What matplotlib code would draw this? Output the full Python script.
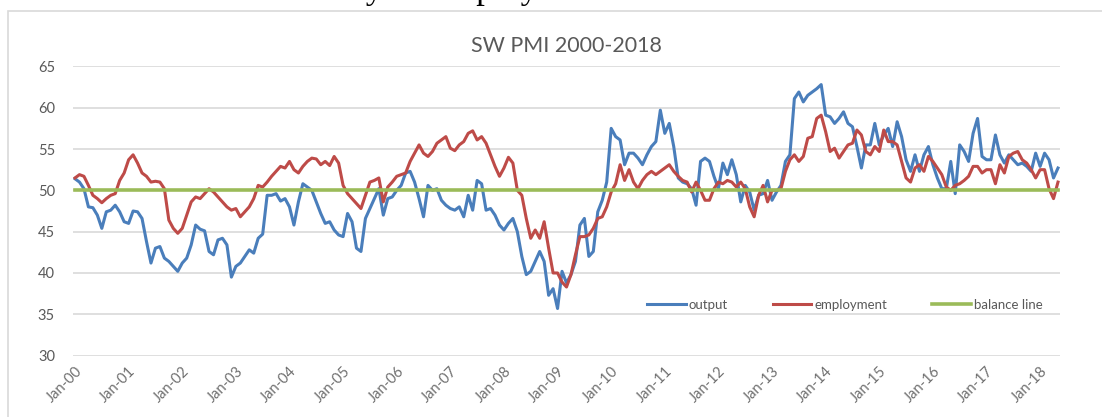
import numpy as np
import matplotlib.pyplot as plt
from matplotlib.patches import Rectangle

# monthly SW PMI readings, Jan 2000 - May 2018
output = [51.4, 51.0, 50.2, 48.0, 47.9, 47.0, 45.4, 47.4, 47.6, 48.2, 47.4, 46.2,
          46.0, 47.5, 47.4, 46.6, 43.8, 41.2, 43.0, 43.2, 41.8, 41.4, 40.8, 40.2,
          41.2, 41.8, 43.4, 45.8, 45.3, 45.1, 42.6, 42.2, 44.0, 44.2, 43.4, 39.5,
          40.8, 41.2, 42.0, 42.8, 42.4, 44.2, 44.7, 49.4, 49.4, 49.6, 48.7, 49.0,
          48.0, 45.8, 48.6, 50.8, 50.4, 50.0, 48.6, 47.2, 46.0, 46.2, 45.2, 44.6,
          44.4, 47.2, 46.2, 43.0, 42.6, 46.6, 47.8, 49.0, 50.2, 47.0, 49.0, 49.2,
          50.0, 50.6, 52.1, 52.3, 51.0, 49.0, 46.8, 50.6, 50.0, 50.2, 48.8, 48.2,
          47.8, 47.6, 48.0, 46.8, 49.4, 47.6, 51.2, 50.8, 47.6, 47.8, 47.0, 45.8,
          45.2, 46.0, 46.6, 45.0, 42.0, 39.8, 40.2, 41.4, 42.6, 41.4, 37.3, 38.1,
          35.7, 40.2, 38.8, 39.8, 41.4, 45.8, 46.6, 42.0, 42.6, 47.4, 48.8, 51.0,
          57.5, 56.5, 56.1, 53.1, 54.5, 54.5, 53.9, 53.1, 54.3, 55.3, 55.9, 59.7,
          56.9, 58.1, 55.3, 51.5, 51.0, 50.8, 50.2, 48.2, 53.5, 53.9, 53.5, 51.7,
          50.2, 53.3, 51.9, 53.7, 51.9, 48.6, 50.6, 49.8, 47.6, 49.4, 49.6, 51.2,
          48.8, 49.8, 50.6, 53.5, 54.3, 61.1, 61.9, 60.7, 61.5, 61.9, 62.3, 62.8,
          59.1, 58.9, 58.1, 58.7, 59.5, 58.1, 57.7, 55.3, 52.7, 55.5, 55.5, 58.1,
          55.5, 56.7, 57.5, 55.3, 58.3, 56.5, 53.7, 52.3, 54.3, 52.3, 54.3, 55.3,
          53.1, 51.5, 50.2, 50.2, 53.5, 49.6, 55.5, 54.7, 53.5, 56.9, 58.7, 54.1,
          53.7, 53.7, 56.7, 54.3, 53.3, 54.3, 53.7, 53.1, 53.3, 52.9, 52.3, 54.5,
          52.9, 54.5, 53.7, 51.5, 52.7]

employment = [51.5, 51.9, 51.7, 50.6, 49.4, 49.0, 48.5, 49.0, 49.4, 49.6, 51.2, 52.1,
              53.7, 54.3, 53.3, 52.1, 51.7, 51.0, 51.1, 51.0, 50.2, 46.4, 45.4, 44.8,
              45.4, 47.0, 48.6, 49.2, 49.0, 49.6, 50.2, 49.8, 49.2, 48.6, 48.0, 47.6,
              47.8, 46.8, 47.4, 48.0, 49.0, 50.6, 50.4, 51.0, 51.7, 52.3, 52.9, 52.7,
              53.5, 52.5, 52.1, 52.9, 53.5, 53.9, 53.8, 53.1, 53.5, 53.0, 54.1, 53.3,
              50.6, 49.6, 49.0, 48.4, 47.8, 49.4, 51.0, 51.2, 51.5, 48.6, 50.4, 51.0,
              51.7, 51.9, 52.1, 53.5, 54.5, 55.5, 54.5, 54.1, 54.7, 55.7, 56.1, 56.5,
              55.1, 54.8, 55.5, 55.9, 56.9, 57.2, 56.1, 56.5, 55.7, 54.3, 52.9, 51.7,
              52.7, 54.0, 53.3, 50.0, 49.4, 46.6, 44.2, 45.2, 44.2, 46.2, 43.0, 40.0,
              40.0, 38.9, 38.3, 39.8, 42.2, 44.4, 44.4, 44.6, 45.4, 46.6, 46.8, 48.0,
              49.8, 50.8, 53.1, 51.2, 52.5, 51.0, 50.2, 51.2, 51.9, 52.3, 51.9, 52.3,
              52.7, 53.1, 52.3, 51.7, 51.2, 51.0, 49.8, 51.0, 50.0, 48.8, 48.8, 50.2,
              51.0, 50.8, 51.2, 51.0, 50.4, 51.0, 50.2, 48.0, 46.8, 49.4, 50.6, 48.6,
              50.0, 50.0, 50.2, 52.3, 53.7, 54.3, 53.5, 54.1, 56.3, 56.5, 58.7, 59.1,
              57.1, 54.7, 55.1, 53.9, 54.7, 55.5, 55.7, 57.3, 56.7, 54.7, 54.3, 55.3,
              54.7, 57.3, 55.9, 55.9, 55.5, 53.5, 51.5, 51.0, 52.7, 53.1, 52.3, 54.1,
              53.5, 52.7, 51.9, 50.4, 50.0, 50.6, 50.8, 51.2, 51.7, 52.9, 52.9, 52.1,
              52.5, 52.5, 50.8, 53.1, 52.1, 54.1, 54.5, 54.7, 53.7, 53.3, 52.5, 51.5,
              52.5, 52.5, 50.2, 49.0, 51.0]

balance = [50.0] * len(output)
year_labels = ["Jan-%02d" % y for y in range(0, 19)]

plt.rcParams['font.family'] = ['Lato', 'DejaVu Sans']
grey = '#595959'

fig = plt.figure(figsize=(11.02, 4.17), dpi=100)
ax = fig.add_axes([73 / 1102, 1 - 355.6 / 417, 987 / 1102, 289.2 / 417])

# outer chart frame (runs off the right and bottom of the picture)
fig.patches.append(Rectangle((8 / 1102, -0.1), 1.2, 1 - 11 / 417 + 0.1,
                             transform=fig.transFigure, fill=False,
                             edgecolor='#D9D9D9', linewidth=1.2))

# document heading, mostly cut off at the top of the picture
fig.text(18 / 1102, 1 + 1.5 / 417, "Chart 4: SW PMI Activity & Employment Scores 2000-18",
         family='Liberation Serif', fontsize=25, color='black', va='baseline')

months = np.arange(len(output))
ax.plot(months, output, color='#4A7EBB', lw=2.2, label='output', zorder=3)
ax.plot(months, employment, color='#BE4B48', lw=2.2, label='employment', zorder=3)
ax.plot(months, balance, color='#9BBB59', lw=2.6, label='balance line', zorder=4)

ax.set_ylim(30, 65)
ax.set_yticks(range(30, 66, 5))
ax.set_xlim(-0.45, len(output) - 1 + 0.45)
ax.set_xticks(range(0, 217, 12))
ax.set_xticklabels(year_labels, rotation=45, ha='right', va='top',
                   rotation_mode='anchor')
ax.grid(axis='y', color='#D9D9D9', lw=1.2)
ax.set_axisbelow(True)
for s in ax.spines.values():
    s.set_visible(False)
ax.tick_params(axis='both', length=0, colors=grey, labelsize=10.5)
ax.tick_params(axis='x', colors='#707070', pad=6)
ax.tick_params(axis='y', pad=13)

fig.text(566 / 1102, 1 - 46 / 417, "SW PMI 2000-2018", ha='center', va='center',
         fontsize=15.5, color=grey)

leg = ax.legend(loc='center', bbox_to_anchor=(845 / 1102, 1 - 305 / 417),
                bbox_transform=fig.transFigure, ncol=3, frameon=False,
                fontsize=9.5, handlelength=2.9, handletextpad=0.25,
                columnspacing=3.4)
for t in leg.get_texts():
    t.set_color(grey)

fig.savefig('out.png', dpi=100)
